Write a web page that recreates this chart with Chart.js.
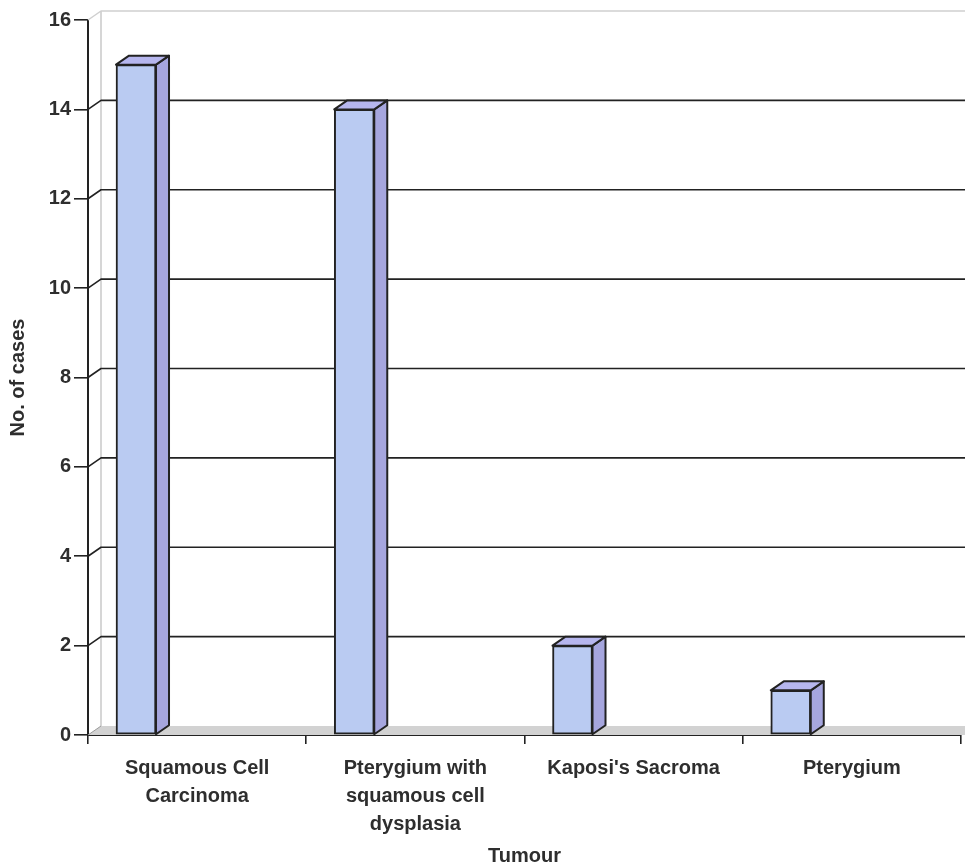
<!DOCTYPE html>
<html>
<head>
<meta charset="utf-8">
<script src="https://cdn.jsdelivr.net/npm/chart.js@4/dist/chart.umd.min.js"></script>
<style>
  html, body { margin: 0; padding: 0; background: #ffffff; }
  #wrap { width: 965px; height: 868px; }
</style>
</head>
<body>
<div id="wrap"><canvas id="chart" width="965" height="868"></canvas></div>
<script>
// Tumour categories and case counts
const categories = [
  ['Squamous Cell', 'Carcinoma'],
  ['Pterygium with', 'squamous cell', 'dysplasia'],
  "Kaposi's Sacroma",
  'Pterygium'
];
const cases = [15, 14, 2, 1];
const yTicks = [0, 2, 4, 6, 8, 10, 12, 14, 16];

// depth of the pseudo-3D projection
const DX = 13, DY = 9;
const INK = '#222222';

function poly(ctx, pts, fill, stroke, lw) {
  ctx.beginPath();
  ctx.moveTo(pts[0][0], pts[0][1]);
  for (let i = 1; i < pts.length; i++) ctx.lineTo(pts[i][0], pts[i][1]);
  ctx.closePath();
  if (fill) { ctx.fillStyle = fill; ctx.fill(); }
  if (stroke) { ctx.strokeStyle = stroke; ctx.lineWidth = lw; ctx.stroke(); }
}

// back wall, floor and receding gridlines
const wallPlugin = {
  id: 'wall',
  beforeDatasetsDraw(chart) {
    const { ctx, chartArea: a } = chart;
    const ys = chart.scales.y;
    ctx.save();
    ctx.lineJoin = 'round';
    // floor
    poly(ctx, [[a.left, a.bottom], [a.right + 20, a.bottom], [a.right + 20 + DX, a.bottom - DY], [a.left + DX, a.bottom - DY]],
      '#d2d2d2', null, 0);
    // back-left corner of the wall
    ctx.strokeStyle = '#c9c9c9';
    ctx.lineWidth = 1.5;
    ctx.beginPath();
    ctx.moveTo(a.left + DX, ys.getPixelForValue(yTicks[yTicks.length - 1]) - DY);
    ctx.lineTo(a.left + DX, a.bottom - DY);
    ctx.stroke();
    yTicks.forEach((v, i) => {
      const y = ys.getPixelForValue(v);
      const last = i === yTicks.length - 1;
      if (v === 0) {
        ctx.strokeStyle = '#9a9a9a';
        ctx.lineWidth = 1;
      } else if (last) {
        ctx.strokeStyle = '#cfcfcf';
        ctx.lineWidth = 1.5;
      } else {
        ctx.strokeStyle = INK;
        ctx.lineWidth = 1.6;
      }
      ctx.beginPath();
      ctx.moveTo(a.left, y);
      ctx.lineTo(a.left + DX, y - DY);
      if (v !== 0) ctx.lineTo(a.right + 20 + DX, y - DY);
      ctx.stroke();
    });
    ctx.restore();
  },
  afterDatasetsDraw(chart) {
    const { ctx } = chart;
    const meta = chart.getDatasetMeta(0);
    ctx.save();
    ctx.lineJoin = 'round';
    meta.data.forEach(bar => {
      const { x, y, base, width } = bar.getProps(['x', 'y', 'base', 'width'], true);
      const l = x - width / 2, r = x + width / 2;
      // side face
      poly(ctx, [[r, y], [r + DX, y - DY], [r + DX, base - DY], [r, base]], '#a6a6de', INK, 2);
      // top face
      poly(ctx, [[l, y], [l + DX, y - DY], [r + DX, y - DY], [r, y]], '#b6b6ee', INK, 2);
    });
    ctx.restore();
  }
};

const FAMILY = '"Liberation Sans", Arial, sans-serif';
const tickFont = { family: FAMILY, size: 20, weight: 'bold' };
const titleFont = { family: FAMILY, size: 20, weight: 'bold' };

new Chart(document.getElementById('chart'), {
  type: 'bar',
  data: {
    labels: categories,
    datasets: [{
      label: 'No. of cases',
      data: cases.map((v, i) => ({ x: i, y: v })),
      xAxisID: 'xb',
      yAxisID: 'y',
      backgroundColor: '#bacbf2',
      borderColor: INK,
      borderWidth: 2,
      borderSkipped: false,
      barThickness: 40
    }]
  },
  options: {
    responsive: false,
    animation: false,
    layout: { padding: { left: 0, top: 20, right: 4, bottom: 0 } },
    plugins: { legend: { display: false }, tooltip: { enabled: false } },
    scales: {
      x: {
        type: 'category',
        position: 'bottom',
        offset: true,
        grid: { offset: true, drawOnChartArea: false, drawTicks: true, tickLength: 9, color: INK, lineWidth: 1.6 },
        border: { display: true, color: INK, width: 2 },
        ticks: { font: Object.assign({ lineHeight: 1.4 }, tickFont), color: '#2e2e2e', padding: 10, maxRotation: 0, autoSkip: false },
        title: { display: true, text: 'Tumour', font: titleFont, color: '#2e2e2e', padding: { top: 0, bottom: 0 } },
        afterFit(s) { s.height = 133; }
      },
      xb: {
        type: 'linear',
        display: false,
        min: -0.22,
        max: 3.78,
        offset: false
      },
      y: {
        position: 'left',
        min: 0,
        max: 16,
        afterBuildTicks(s) { s.ticks = yTicks.map(v => ({ value: v })); },
        grid: { drawOnChartArea: false, drawTicks: true, tickLength: 14, color: INK, lineWidth: 1.6 },
        border: { display: true, color: INK, width: 2 },
        ticks: { font: tickFont, color: '#2e2e2e', padding: 3 },
        title: { display: true, text: 'No. of cases', font: titleFont, color: '#2e2e2e', padding: { top: 6, bottom: 0 } },
        afterFit(s) { s.width = 88; }
      }
    }
  },
  plugins: [wallPlugin]
});
</script>
</body>
</html>
